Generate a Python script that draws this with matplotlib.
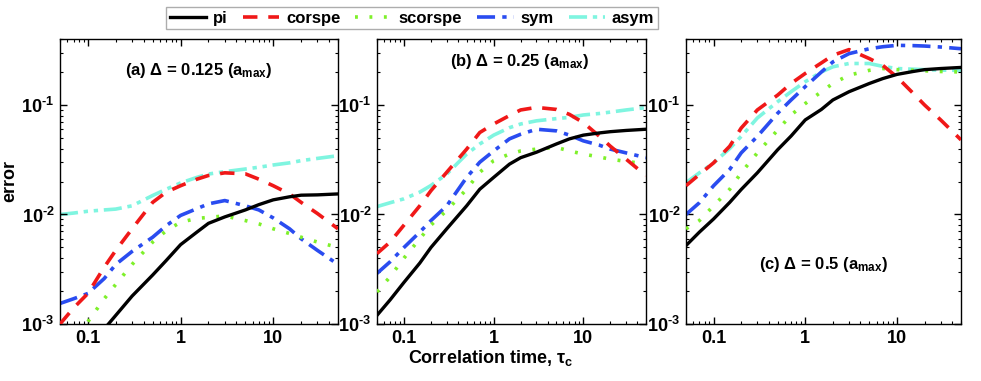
import matplotlib
matplotlib.use("Agg")
import matplotlib.pyplot as plt
import numpy as np

tau = [0.05, 0.07, 0.1, 0.15, 0.2, 0.3, 0.5, 0.7, 1, 1.5, 2, 3, 5, 7, 10, 15, 20, 30, 50]

# Panel (a) Delta = 0.125
a_pi      = [None, None, None, 0.0009, 0.0012, 0.0018, 0.0028, 0.0038, 0.0053, 0.0069, 0.0083, 0.0095, 0.0110, 0.0123, 0.0136, 0.0145, 0.0150, 0.0151, 0.0154]
a_corspe  = [0.0010, 0.0014, 0.0019, 0.0033, 0.0047, 0.0074, 0.0129, 0.0160, 0.0183, 0.0210, 0.0227, 0.0240, 0.0235, 0.0210, 0.0183, 0.0154, 0.0129, 0.0102, 0.0074]
a_scorspe = [None, None, 0.00105, 0.0017, 0.0023, 0.0035, 0.0056, 0.0071, 0.0085, 0.0092, 0.0094, 0.0097, 0.0088, 0.0082, 0.0074, 0.0067, 0.0062, 0.0056, 0.0050]
a_sym     = [0.00154, 0.0017, 0.0019, 0.0026, 0.0035, 0.0046, 0.0062, 0.0079, 0.0098, 0.0113, 0.0125, 0.0134, 0.0120, 0.0110, 0.0093, 0.0074, 0.0060, 0.0047, 0.0035]
a_asym    = [0.0100, 0.0103, 0.0107, 0.0110, 0.0112, 0.0120, 0.0149, 0.0170, 0.0194, 0.0218, 0.0234, 0.0246, 0.0260, 0.0270, 0.0283, 0.0296, 0.0310, 0.0325, 0.0344]

# Panel (b) Delta = 0.25
b_pi      = [0.0012, 0.00166, 0.0024, 0.0036, 0.0050, 0.0074, 0.0120, 0.0170, 0.0218, 0.0288, 0.0330, 0.0370, 0.0440, 0.0490, 0.0530, 0.0555, 0.0570, 0.0585, 0.0600]
b_corspe  = [0.0044, 0.0056, 0.0080, 0.0120, 0.0165, 0.0243, 0.0395, 0.0560, 0.0670, 0.0800, 0.0900, 0.0950, 0.0910, 0.0820, 0.0690, 0.0520, 0.0420, 0.0320, 0.0226]
b_scorspe = [0.00196, 0.0027, 0.0040, 0.0060, 0.0080, 0.0109, 0.0170, 0.0243, 0.0310, 0.0356, 0.0380, 0.0395, 0.0410, 0.0380, 0.0356, 0.0335, 0.0320, 0.0305, 0.0290]
b_sym     = [0.0029, 0.0037, 0.0050, 0.0069, 0.0088, 0.0120, 0.0218, 0.0300, 0.0380, 0.0490, 0.0540, 0.0600, 0.0580, 0.0530, 0.0470, 0.0430, 0.0395, 0.0365, 0.0330]
b_asym    = [0.0118, 0.0128, 0.0139, 0.0160, 0.0184, 0.0234, 0.0356, 0.0440, 0.0530, 0.0620, 0.0670, 0.0716, 0.0750, 0.0770, 0.0810, 0.0835, 0.0860, 0.0900, 0.0946]

# Panel (c) Delta = 0.5
c_pi      = [0.0052, 0.0069, 0.0091, 0.0129, 0.0169, 0.0240, 0.0390, 0.0520, 0.0730, 0.0910, 0.1110, 0.1320, 0.1570, 0.1740, 0.1900, 0.2020, 0.2100, 0.2150, 0.2200]
c_corspe  = [0.0183, 0.0232, 0.0296, 0.0420, 0.0615, 0.0900, 0.1230, 0.1570, 0.1940, 0.2420, 0.2840, 0.3200, 0.2650, 0.2300, 0.1800, 0.1280, 0.1000, 0.0730, 0.0480]
c_scorspe = [0.0074, 0.0088, 0.0120, 0.0170, 0.0240, 0.0365, 0.0590, 0.0810, 0.1030, 0.1320, 0.1570, 0.1870, 0.2070, 0.2150, 0.2100, 0.2070, 0.2050, 0.2020, 0.2000]
c_sym     = [0.0100, 0.0128, 0.0183, 0.0258, 0.0365, 0.0516, 0.0840, 0.1110, 0.1470, 0.2000, 0.2470, 0.2940, 0.3260, 0.3400, 0.3500, 0.3480, 0.3450, 0.3380, 0.3260]
c_asym    = [0.0195, 0.0240, 0.0296, 0.0400, 0.0516, 0.0760, 0.1070, 0.1320, 0.1630, 0.2000, 0.2230, 0.2390, 0.2390, 0.2250, 0.2150, 0.2120, 0.2100, 0.2080, 0.2070]

series_names = ["pi", "corspe", "scorspe", "sym", "asym"]
panel_labels = [r"(a) $\mathbf{\Delta}$ = 0.125 (a$_{\mathbf{max}}$)",
                r"(b) $\mathbf{\Delta}$ = 0.25 (a$_{\mathbf{max}}$)",
                r"(c) $\mathbf{\Delta}$ = 0.5 (a$_{\mathbf{max}}$)"]

panels = [
    [a_pi, a_corspe, a_scorspe, a_sym, a_asym],
    [b_pi, b_corspe, b_scorspe, b_sym, b_asym],
    [c_pi, c_corspe, c_scorspe, c_sym, c_asym],
]

colors = ["#000000", "#f01818", "#7ef02a", "#2a4cf0", "#7ff5e0"]
styles = ["-", (0, (4, 3)), (0, (0.8, 3.2)), (0, (5, 2, 1.2, 2)), (0, (5, 1.6, 1.2, 1.6, 1.2, 1.6))]
widths = [2.4, 2.6, 2.6, 2.6, 2.6]

plt.rcParams['font.family'] = ['Liberation Sans', 'DejaVu Sans']
plt.rcParams['mathtext.fontset'] = 'custom'
plt.rcParams['mathtext.rm'] = 'Liberation Sans:bold'
plt.rcParams['mathtext.bf'] = 'Liberation Sans:bold'
plt.rcParams['mathtext.default'] = 'bf'

fig = plt.figure(figsize=(9.81, 3.81), dpi=100)
W, H = 981.0, 381.0
boxes = [(60, 39, 338, 324), (377, 39, 646, 324), (686, 39, 961, 324)]
label_pos = [(0.50, 0.89), (0.53, 0.92), (0.50, 0.21)]

axes = []
handles = None
for i, (x0, y0, x1, y1) in enumerate(boxes):
    ax = fig.add_axes([x0 / W, 1 - y1 / H, (x1 - x0) / W, (y1 - y0) / H])
    axes.append(ax)
    hs = []
    for j, ser in enumerate(panels[i]):
        xs = [t for t, v in zip(tau, ser) if v is not None]
        ys = [v for v in ser if v is not None]
        h, = ax.plot(xs, ys, color=colors[j], linestyle=styles[j], lw=widths[j],
                     label=series_names[j], zorder=5 - j if j else 6)
        hs.append(h)
    handles = hs
    ax.set_xscale("log")
    ax.set_yscale("log")
    ax.set_xlim(0.05, 50)
    ax.set_ylim(1e-3, 0.4)
    ax.set_xticks([0.1, 1, 10])
    ax.set_xticklabels(["0.1", "1", "10"])
    ax.set_yticks([1e-3, 1e-2, 1e-1])
    ax.set_yticklabels([r"10$^{\text{-}3}$", r"10$^{\text{-}2}$", r"10$^{\text{-}1}$"])
    ax.tick_params(which="both", direction="in", top=True, right=True)
    ax.tick_params(which="major", length=5, width=1)
    ax.tick_params(which="minor", length=2.5, width=0.8)
    ax.tick_params(axis="both", labelsize=13, pad=4)
    for lbl in ax.get_xticklabels() + ax.get_yticklabels():
        lbl.set_fontweight("bold")
    for sp in ax.spines.values():
        sp.set_linewidth(1.0)
    ax.text(label_pos[i][0], label_pos[i][1], panel_labels[i], transform=ax.transAxes,
            ha="center", va="center", fontsize=12, fontweight="bold")

axes[0].set_ylabel("error", fontsize=13, fontweight="bold", labelpad=2)
fig.text(0.5, 1 - 358 / H, r"Correlation time, $\mathbf{\tau_c}$",
         ha="center", va="center", fontsize=13, fontweight="bold")

leg = fig.legend(handles, series_names, loc="center", ncol=5,
                 bbox_to_anchor=(412 / W, 1 - 18 / H), fontsize=12, frameon=True,
                 fancybox=False, edgecolor="#999999", handlelength=2.2,
                 columnspacing=0.9, handletextpad=0.4, borderpad=0.2)
for t in leg.get_texts():
    t.set_fontweight("bold")

fig.savefig("out.png", dpi=100)
